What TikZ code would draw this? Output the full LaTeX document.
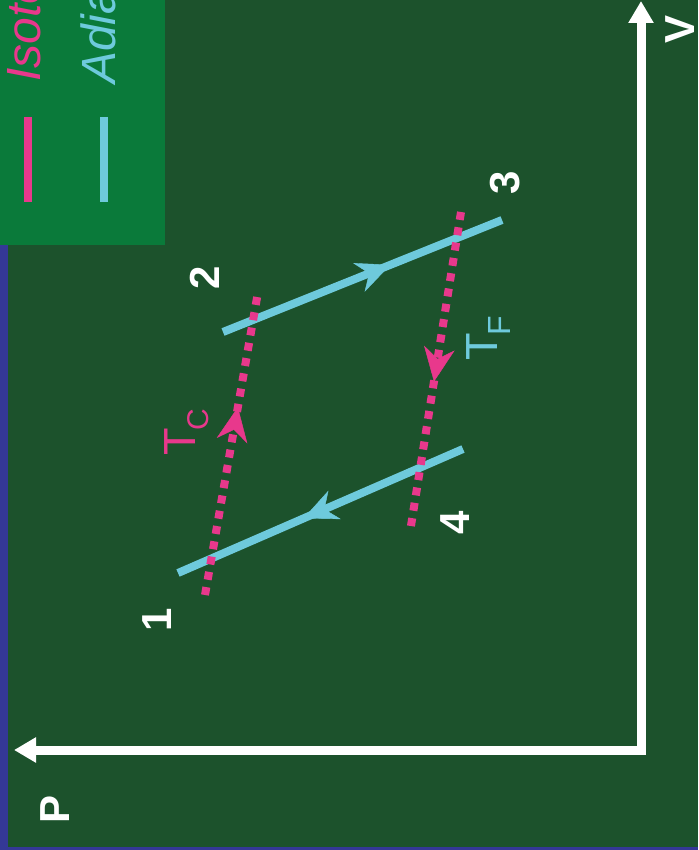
\documentclass[tikz,border=0pt]{standalone}
\usepackage{fontspec}
\setmainfont{Liberation Sans}
\usetikzlibrary{arrows.meta,decorations.markings}
\definecolor{bg}{RGB}{28,82,44}
\definecolor{leg}{RGB}{10,122,58}
\definecolor{edgeblue}{RGB}{52,56,150}
\definecolor{pk}{RGB}{232,56,140}
\definecolor{cy}{RGB}{110,202,220}
\tikzset{
  adiab/.style={draw=cy, line width=8pt},
  isot/.style={draw=pk, line width=8pt, dash pattern=on 8pt off 7.5pt},
  midarrow/.style 2 args={postaction={decorate}, decoration={markings,
     mark=at position #1 with {\arrow[#2, line width=0.4pt]{Stealth[length=34pt,width=31pt,inset=11pt]}}}},
  num/.style={text=white, rotate=90, inner sep=0pt, font=\bfseries\fontsize{42}{42}\selectfont},
  legtext/.style={rotate=90, inner sep=0pt, anchor=base west, font=\itshape\fontsize{48}{48}\selectfont},
  tlabel/.style={rotate=90, inner sep=0pt, anchor=base west, font=\fontsize{45}{45}\selectfont},
  axis/.style={draw=white, line width=9pt, line join=miter}
}
\begin{document}
\begin{tikzpicture}[x=1pt,y=-1pt]
\useasboundingbox (0,0) rectangle (698,850);
\clip (0,0) rectangle (698,850);
% background
\fill[bg] (0,0) rectangle (698,850);
\fill[edgeblue] (0,245) rectangle (8,850);
\fill[edgeblue] (0,847) rectangle (698,850);
\fill[leg] (0,0) rectangle (165,245);
% legend
\coordinate (lp1) at (28,117); \coordinate (lp2) at (28,202);
\coordinate (lc1) at (104,117); \coordinate (lc2) at (104,202);
\draw[pk, line width=8pt] (lp1) -- (lp2);
\draw[cy, line width=8pt] (lc1) -- (lc2);
\node[legtext, text=pk] (legI) at (40,82) {Isotérmica};
\node[legtext, text=cy] (legA) at (115,84) {Adiabática};
% axes
\coordinate (vtip) at (641,1);
\coordinate (corner) at (641,750);
\coordinate (htip) at (14,750);
\draw[axis, {Triangle[length=22pt,width=24pt]}-{Triangle[length=22pt,width=24pt]}] (vtip) -- (corner) -- (htip);
\node[num] (V) at (680,29) {V};
\node[num] (P) at (55,809) {P};
% cycle endpoints
\coordinate (a1) at (223,332); \coordinate (a2) at (502,220);
\coordinate (b1) at (463,449); \coordinate (b2) at (178,573);
\coordinate (c1) at (205,595); \coordinate (c2) at (258,292);
\coordinate (d1) at (461,212); \coordinate (d2) at (410,532);
% adiabatics
\draw[adiab, midarrow={0.60}{cy}] (a1) -- (a2);
\draw[adiab, midarrow={0.56}{cy}] (b1) -- (b2);
% isotherms
\draw[isot, midarrow={0.62}{pk}] (c1) -- (c2);
\draw[isot, midarrow={0.53}{pk}] (d1) -- (d2);
% labels
\node[num] (n1) at (157,620) {1};
\node[num] (n2) at (205,278) {2};
\node[num] (n3) at (505,183) {3};
\node[num] (n4) at (455,523) {4};
\node[tlabel, text=pk] (TC) at (195,456) {T\kern-2pt\raisebox{-13pt}{\fontsize{30}{30}\selectfont C}};
\node[tlabel, text=cy] (TF) at (497,361) {T\kern-2pt\raisebox{-13pt}{\fontsize{32}{32}\selectfont F}};
\end{tikzpicture}
\end{document}
